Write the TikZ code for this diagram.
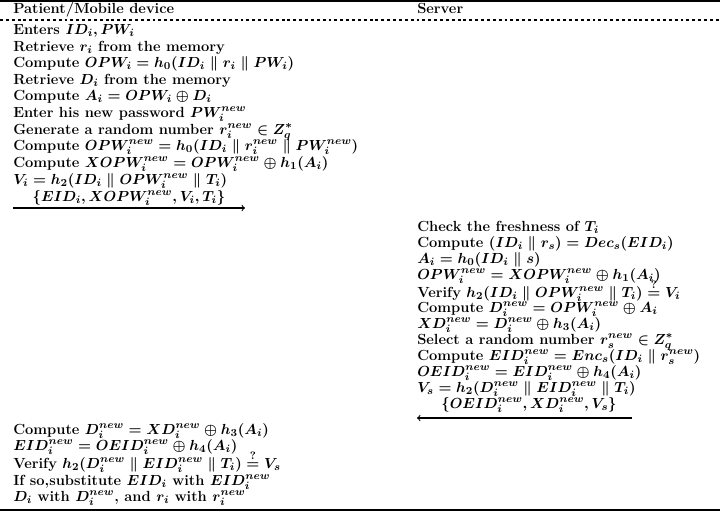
\documentclass[tikz,border=0pt]{standalone}
\usepackage{amsmath,amssymb}
\usepackage{tikz}
\usetikzlibrary{arrows, positioning}

\begin{document}
\begin{tikzpicture}[
    x=0.75pt, y=-0.75pt,
    txt/.style={anchor=base west, inner sep=0pt, font=\fontsize{11}{13}\selectfont\bfseries\boldmath},
    msglabel/.style={anchor=base, inner sep=0pt, font=\fontsize{11}{13}\selectfont\bfseries\boldmath},
    rule/.style={line width=0.8pt},
    sep/.style={line width=0.8pt, dash pattern=on 2.2pt off 2.2pt},
    arrow/.style={->, >=to, line width=0.8pt}
]
\useasboundingbox (0,0) rectangle (720,512);

% Frame
\coordinate (tl) at (0,1);
\coordinate (tr) at (720,1);
\coordinate (dl) at (0,20);
\coordinate (dr) at (720,20);
\coordinate (bl) at (0,510);
\coordinate (br) at (720,510);
\draw[rule] (tl) -- (tr);
\draw[sep] (dl) -- (dr);
\draw[rule] (bl) -- (br);

% Headers
\node[txt] (patient) at (13,13) {Patient/Mobile device};
\node[txt] (server) at (417,13) {Server};

% Patient side: login and password change request
\node[txt] (p1) at (13,34) {Enters $ID_i, PW_i$};
\node[txt] (p2) at (13,51) {Retrieve $r_i$ from the memory};
\node[txt] (p3) at (13,67) {Compute $OPW_i = h_0(ID_i \parallel r_i \parallel PW_i)$};
\node[txt] (p4) at (13,84) {Retrieve $D_i$ from the memory};
\node[txt] (p5) at (13,100) {Compute $A_i = OPW_i \oplus D_i$};
\node[txt] (p6) at (13,117) {Enter his new password $PW_i^{new}$};
\node[txt] (p7) at (13,134) {Generate a random number $r_i^{new} \in Z_q^*$};
\node[txt] (p8) at (13,150) {Compute $OPW_i^{new} = h_0(ID_i \parallel r_i^{new} \parallel PW_i^{new})$};
\node[txt] (p9) at (13,167) {Compute $XOPW_i^{new} = OPW_i^{new} \oplus h_1(A_i)$};
\node[txt] (p10) at (13,184) {$V_i = h_2(ID_i \parallel OPW_i^{new} \parallel T_i)$};

% First message
\coordinate (m1a) at (13,208);
\coordinate (m1b) at (245,208);
\draw[arrow] (m1a) -- (m1b);
\node[msglabel] (msg1) at (129,201) {$\{EID_i, XOPW_i^{new}, V_i, T_i\}$};

% Server side
\node[txt] (s1) at (417,231) {Check the freshness of $T_i$};
\node[txt] (s2) at (417,247) {Compute $(ID_i \parallel r_s) = Dec_s(EID_i)$};
\node[txt] (s3) at (417,263) {$A_i = h_0(ID_i \parallel s)$};
\node[txt] (s4) at (417,279) {$OPW_i^{new} = XOPW_i^{new} \oplus h_1(A_i)$};
\node[txt] (s5) at (417,297) {Verify $h_2(ID_i \parallel OPW_i^{new} \parallel T_i) \stackrel{?}{=} V_i$};
\node[txt] (s6) at (417,312) {Compute $D_i^{new} = OPW_i^{new} \oplus A_i$};
\node[txt] (s7) at (417,328) {$XD_i^{new} = D_i^{new} \oplus h_3(A_i)$};
\node[txt] (s8) at (417,344) {Select a random number $r_s^{new} \in Z_q^*$};
\node[txt] (s9) at (417,360) {Compute $EID_i^{new} = Enc_s(ID_i \parallel r_s^{new})$};
\node[txt] (s10) at (417,376) {$OEID_i^{new} = EID_i^{new} \oplus h_4(A_i)$};
\node[txt] (s11) at (417,392) {$V_s = h_2(D_i^{new} \parallel EID_i^{new} \parallel T_i)$};

% Second message
\coordinate (m2a) at (632,418);
\coordinate (m2b) at (417,418);
\draw[arrow] (m2a) -- (m2b);
\node[msglabel] (msg2) at (529,408) {$\{OEID_i^{new}, XD_i^{new}, V_s\}$};

% Patient side: update
\node[txt] (b1) at (13,434) {Compute $D_i^{new} = XD_i^{new} \oplus h_3(A_i)$};
\node[txt] (b2) at (13,450) {$EID_i^{new} = OEID_i^{new} \oplus h_4(A_i)$};
\node[txt] (b3) at (13,468) {Verify $h_2(D_i^{new} \parallel EID_i^{new} \parallel T_i) \stackrel{?}{=} V_s$};
\node[txt] (b4) at (13,485) {If so,substitute $EID_i$ with $EID_i^{new}$};
\node[txt] (b5) at (13,501) {$D_i$ with $D_i^{new}$, and $r_i$ with $r_i^{new}$};

\end{tikzpicture}
\end{document}
